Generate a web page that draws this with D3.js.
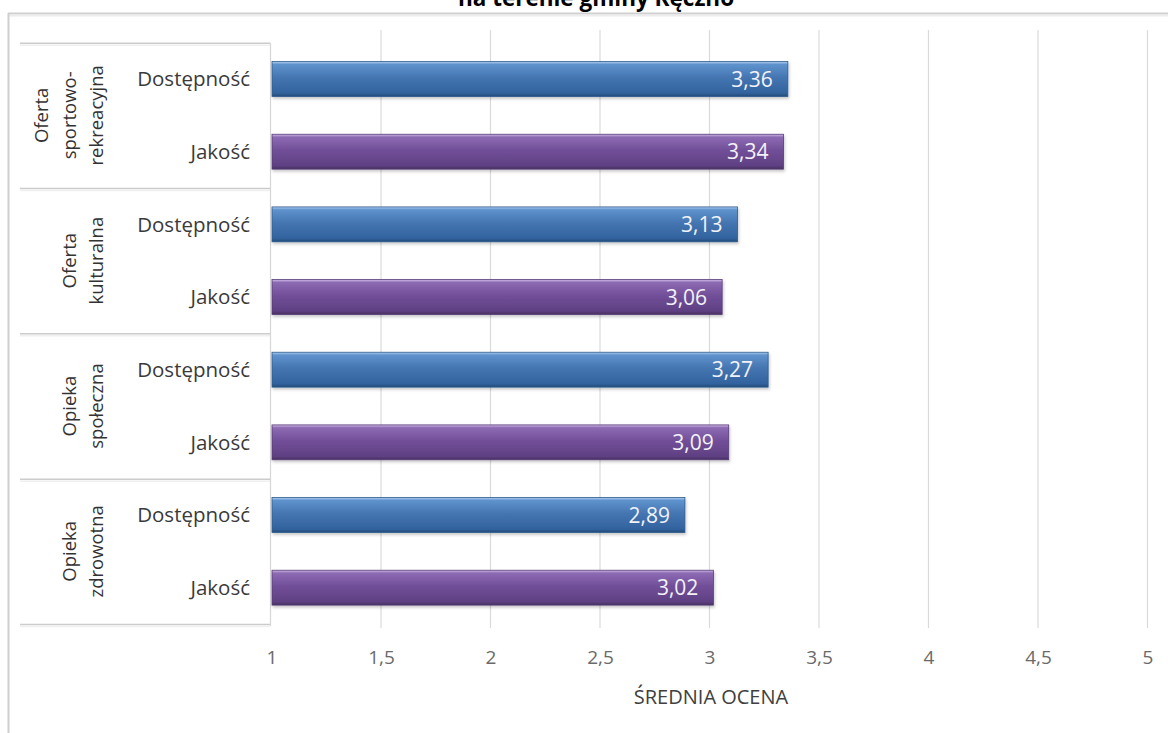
<!DOCTYPE html>
<html><head><meta charset="utf-8">
<script src="https://cdn.jsdelivr.net/npm/d3@7"></script>
<style>
html,body{margin:0;padding:0;background:#fff;}
svg{display:block;font-family:"Open Sans",sans-serif;}
</style></head>
<body>
<svg id="chart" width="1168" height="733"></svg>
<script>
const titleText = "na terenie gminy Kęczno";
const groupLabels = [["Oferta","sportowo-","rekreacyjna"],["Oferta","kulturalna"],["Opieka","społeczna"],["Opieka","zdrowotna"]];
const subCategories = ["Dostępność","Jakość"];
const dostepnosc = [3.36, 3.13, 3.27, 2.89];
const jakosc = [3.34, 3.06, 3.09, 3.02];
const tickValues = [1,1.5,2,2.5,3,3.5,4,4.5,5];
const axisTitle = "ŚREDNIA OCENA";

const svg = d3.select("#chart");
const defs = svg.append("defs");

function grad(id, stops){
  const g = defs.append("linearGradient").attr("id", id).attr("x1",0).attr("y1",0).attr("x2",0).attr("y2",1);
  stops.forEach(s => g.append("stop").attr("offset", s[0]).attr("stop-color", s[1]));
}
grad("gBlue", [["0%","#b3d0f0"],["8%","#5f93cd"],["45%","#4576b2"],["90%","#32639e"],["100%","#234a78"]]);
grad("gPurple", [["0%","#d3bdea"],["8%","#8d6bb3"],["45%","#724f99"],["90%","#5f4083"],["100%","#46305f"]]);
const shadow = defs.append("filter").attr("id","sh").attr("x","-5%").attr("y","-5%").attr("width","110%").attr("height","130%");
shadow.append("feDropShadow").attr("dx",1).attr("dy",2).attr("stdDeviation",1.5).attr("flood-color","#000").attr("flood-opacity",0.22);

// title (partly cut off at top, as in the source)
svg.append("text").attr("x", 596).attr("y", 6).attr("text-anchor","middle")
  .attr("font-weight","bold").attr("font-size", 22.5).attr("fill","#000").text(titleText);

// outer frame
svg.append("line").attr("x1",8).attr("x2",1168).attr("y1",13.5).attr("y2",13.5).attr("stroke","#cfcfcf").attr("stroke-width",2);
svg.append("line").attr("x1",8).attr("x2",1168).attr("y1",15.5).attr("y2",15.5).attr("stroke","#ececec").attr("stroke-width",2);
svg.append("line").attr("x1",8.5).attr("x2",8.5).attr("y1",13).attr("y2",733).attr("stroke","#cfcfcf").attr("stroke-width",2);

// build rows
const rows = [];
groupLabels.forEach((g,i) => {
  rows.push({group:i, sub:subCategories[0], value:dostepnosc[i], series:0});
  rows.push({group:i, sub:subCategories[1], value:jakosc[i], series:1});
});
const rowKeys = rows.map((r,i)=> i);

const x = d3.scaleLinear().domain([1,5]).range([271,1147]);
const plotTop = 42.7, plotBottom = 624;
const y = d3.scaleBand().domain(rowKeys).range([plotTop, plotBottom]).paddingInner(0.52).paddingOuter(0.26);
const gy = d3.scaleBand().domain(d3.range(groupLabels.length)).range([plotTop, plotBottom]);

// gridlines
svg.append("g").selectAll("line").data(tickValues.slice(1)).join("line")
  .attr("x1", d=>x(d)+0.5).attr("x2", d=>x(d)+0.5).attr("y1", 30).attr("y2", 628)
  .attr("stroke","#dadada").attr("stroke-width",1.2);

// category table lines
const tbl = svg.append("g");
const hl = d3.range(groupLabels.length+1).map(i => i < groupLabels.length ? gy(i) : plotBottom);
tbl.selectAll("line.h").data(hl).join("line")
  .attr("x1",20).attr("x2",270).attr("y1",d=>d+0.5).attr("y2",d=>d+0.5)
  .attr("stroke","#cccccc").attr("stroke-width",1.5);
tbl.selectAll("line.h2").data(hl).join("line")
  .attr("x1",20).attr("x2",270).attr("y1",d=>d+2.5).attr("y2",d=>d+2.5)
  .attr("stroke","#f0f0f0").attr("stroke-width",1.5);
tbl.append("line").attr("x1",270.5).attr("x2",270.5).attr("y1",plotTop).attr("y2",plotBottom+2)
  .attr("stroke","#d6d6d6").attr("stroke-width",1.2);

// group labels (rotated)
groupLabels.forEach((lines,i) => {
  const cy = gy(i) + gy.bandwidth()/2;
  const n = lines.length;
  lines.forEach((ln,j) => {
    const lx = 97 - (n-1-j)*27.5;
    svg.append("text").attr("transform", `translate(${lx},${cy}) rotate(-90)`)
      .attr("text-anchor","middle").attr("dy","0.35em")
      .attr("font-size",18.5).attr("fill","#333").text(ln);
  });
});

// sub labels
svg.append("g").selectAll("text").data(rows).join("text")
  .attr("x", 250).attr("y", (d,i)=> y(i) + y.bandwidth()/2).attr("dy","0.35em")
  .attr("text-anchor","end").attr("font-size",20.5).attr("fill","#3a3a3a").text(d=>d.sub);

// bars
svg.append("g").selectAll("rect").data(rows).join("rect")
  .attr("x", x(1)+1).attr("y", (d,i)=> y(i)).attr("height", y.bandwidth())
  .attr("width", d => x(d.value) - x(1) - 1)
  .attr("fill", d => d.series===0 ? "url(#gBlue)" : "url(#gPurple)")
  .attr("stroke", d => d.series===0 ? "#2c5a8f" : "#563a77").attr("stroke-width",0.8)
  .attr("filter","url(#sh)");

// value labels
svg.append("g").selectAll("text").data(rows).join("text")
  .attr("x", d => x(d.value) - 15).attr("y", (d,i)=> y(i) + y.bandwidth()/2).attr("dy","0.36em")
  .attr("text-anchor","end").attr("font-size",21).attr("fill","#f2f2f8")
  .text(d => d3.format(".2f")(d.value).replace(".",","));

// x axis tick labels
svg.append("g").selectAll("text").data(tickValues).join("text")
  .attr("x", d=>x(d)+1).attr("y", 657).attr("dy","0.35em").attr("text-anchor","middle")
  .attr("font-size",19).attr("fill","#6a6a6a")
  .text(d => String(d).replace(".",","));

svg.append("text").attr("x", 711).attr("y", 697).attr("dy","0.35em").attr("text-anchor","middle")
  .attr("font-size",20).attr("fill","#404040").text(axisTitle);
</script>
</body></html>
